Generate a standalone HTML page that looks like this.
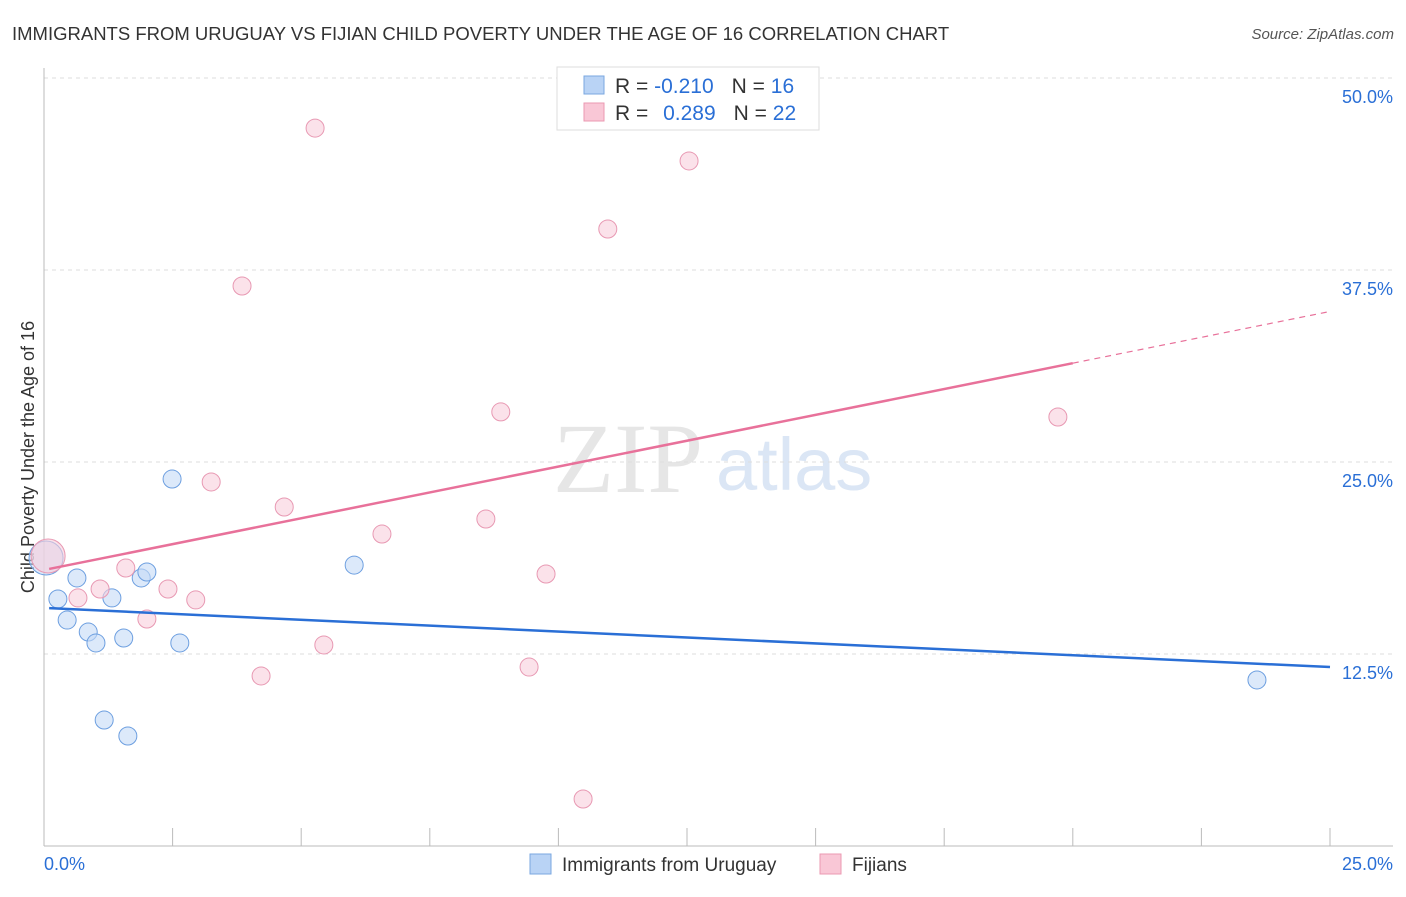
<!DOCTYPE html>
<html><head><meta charset="utf-8"><style>
body{margin:0;background:#fff;font-family:"Liberation Sans",sans-serif}
svg text{font-family:"Liberation Sans",sans-serif}
</style></head><body>
<svg id="c" width="1406" height="892">
<text x="12" y="40" font-size="18.5" fill="#333">IMMIGRANTS FROM URUGUAY VS FIJIAN CHILD POVERTY UNDER THE AGE OF 16 CORRELATION CHART</text>
<text x="1394" y="39" font-size="15" fill="#555" font-style="italic" text-anchor="end">Source: ZipAtlas.com</text>
<text transform="translate(34,457) rotate(-90)" font-size="18" fill="#333" text-anchor="middle">Child Poverty Under the Age of 16</text>
<text x="553" y="492" font-size="100" fill="#e6e6e6" style="font-family:'Liberation Serif',serif">ZIP</text>
<text x="716" y="490" font-size="74" fill="#dbe6f5">atlas</text>
<g id="grid"></g><g id="axes"></g><g id="marks"></g>
<g>
<rect x="557" y="67" width="262" height="63" fill="#fff" stroke="#ddd"/>
<rect x="584" y="76" width="20" height="18" fill="#b9d3f5" stroke="#7aa7e0"/>
<rect x="584" y="103" width="20" height="18" fill="#f9c7d6" stroke="#eb98b2"/>
<text x="615" y="93" font-size="21" fill="#333">R = <tspan fill="#2a6fd6">-0.210</tspan><tspan dx="18">N = </tspan><tspan fill="#2a6fd6">16</tspan></text>
<text x="615" y="120" font-size="21" fill="#333">R = <tspan dx="9" fill="#2a6fd6">0.289</tspan><tspan dx="18">N = </tspan><tspan fill="#2a6fd6">22</tspan></text>
</g>
<g>
<rect x="530" y="854" width="21" height="20" fill="#b9d3f5" stroke="#7aa7e0"/>
<text x="562" y="871" font-size="19" fill="#333">Immigrants from Uruguay</text>
<rect x="820" y="854" width="21" height="20" fill="#f9c7d6" stroke="#eb98b2"/>
<text x="852" y="871" font-size="19" fill="#333">Fijians</text>
</g>
</svg>
<script>
const blueX=[0.04,0.27,0.45,0.64,0.86,1.01,1.17,1.32,1.55,1.63,1.89,2.0,2.49,2.64,6.03,23.58];
const blueY=[18.75,16.08,14.71,17.45,13.93,13.22,8.20,16.15,13.54,7.16,17.45,17.84,23.89,13.22,18.29,10.81];
const pinkX=[0.08,0.66,1.09,1.59,2.0,2.41,2.95,3.25,3.85,4.22,4.67,5.27,5.44,6.57,8.59,8.88,9.43,9.76,10.48,10.96,12.54,19.71];
const pinkY=[18.88,16.15,16.73,18.10,14.78,16.73,16.02,23.70,36.46,11.07,22.07,46.74,13.09,20.31,21.29,28.26,11.65,17.71,3.06,40.17,44.60,27.93];
const blueTrend=[15.5,11.65];
const pinkTrend=[17.97,34.8];
const yTicks=[12.5,25,37.5,50];
const yTickLabels=["12.5%","25.0%","37.5%","50.0%"];
const xTicks=[0,2.5,5,7.5,10,12.5,15,17.5,20,22.5,25];
const NS="http://www.w3.org/2000/svg";
const X=v=>44+v*1286/25, Y=v=>846-v*192/12.5;
function mk(t,a,p){const e=document.createElementNS(NS,t);for(const k in a)e.setAttribute(k,a[k]);p.appendChild(e);return e;}
const grid=document.getElementById('grid'),axes=document.getElementById('axes'),marks=document.getElementById('marks');
yTicks.forEach((t,i)=>{
 const l=mk('line',{x1:44,x2:1393,y1:Y(t),y2:Y(t),stroke:'#ddd','stroke-dasharray':'4,4'},grid);
 
 
 const tx=mk('text',{x:1393,y:Y(t)+25,'font-size':18,fill:'#2a6fd6','text-anchor':'end'},axes);
 tx.textContent=yTickLabels[i];
 
 
});
mk('line',{x1:44,x2:44,y1:68,y2:846,stroke:'#bbb'},axes);
mk('line',{x1:44,x2:1393,y1:846,y2:846,stroke:'#bbb'},axes);
xTicks.forEach(t=>{const l=mk('line',{x1:X(t),x2:X(t),y1:828,y2:846,stroke:'#bbb'},axes);
 
 });
let a=mk('text',{x:44,y:870,'font-size':18,fill:'#2a6fd6'},axes);a.textContent='0.0%';


a=mk('text',{x:1393,y:870,'font-size':18,fill:'#2a6fd6','text-anchor':'end'},axes);a.textContent='25.0%';


function pts(xs,ys,f,s,name){xs.forEach((x,i)=>{const r=(i==0)?17:9;const c=mk('circle',{cx:X(x),cy:Y(ys[i]),r:r,fill:f,stroke:s,'fill-opacity':0.6},marks);
 
 });}
pts(blueX,blueY,'#c4daf6','#6d9fe0','uruguay-point');
pts(pinkX,pinkY,'#f9cfdc','#e899b3','fijian-point');
let l=mk('line',{x1:X(0.1),y1:Y(blueTrend[0]+(blueTrend[1]-blueTrend[0])*0.004),x2:X(25),y2:Y(blueTrend[1]),stroke:'#2a6fd6','stroke-width':2.5},marks);


const pAt=v=>pinkTrend[0]+(pinkTrend[1]-pinkTrend[0])*v/25;
l=mk('line',{x1:X(0.1),y1:Y(pAt(0.1)),x2:X(20),y2:Y(pAt(20)),stroke:'#e8719a','stroke-width':2.5},marks);


l=mk('line',{x1:X(20),y1:Y(pAt(20)),x2:X(25),y2:Y(pAt(25)),stroke:'#e8719a','stroke-width':1.2,'stroke-dasharray':'6,5'},marks);


</script>
</body></html>
